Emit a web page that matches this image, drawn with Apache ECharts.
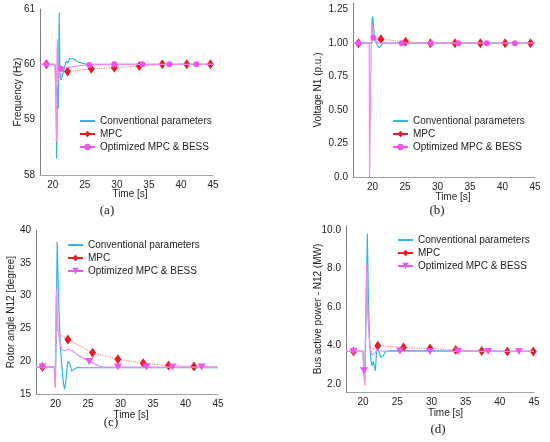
<!DOCTYPE html>
<html>
<head>
<meta charset="utf-8">
<script src="https://cdn.jsdelivr.net/npm/echarts@6/dist/echarts.min.js"></script>
<style>
  html, body { margin: 0; padding: 0; background: #fff; }
  #chart { width: 550px; height: 442px; }
</style>
</head>
<body>
<div id="chart"></div>
<script>
// series names
const NAME_CONV = 'Conventional parameters';
const NAME_MPC = 'MPC';
const NAME_OPT = 'Optimized MPC & BESS';
const NAME_OPT_TRI = 'Optimized MPC & BESS '; // panels (c),(d) use a triangle marker

const xTicks = [20, 25, 30, 35, 40, 45];

// (a) frequency [Hz]
const aConv = [[18, 60], [20.3, 60], [20.45, 59.9], [20.6, 58.3], [20.72, 59.6], [20.85, 59.2], [21.0, 60.93], [21.12, 59.8], [21.3, 59.72], [21.6, 59.75], [21.85, 59.95], [22.1, 60.06], [22.3, 60.02], [22.6, 60.1], [23.0, 60.11], [23.5, 60.08], [24.0, 60.04], [25.0, 60.01], [26, 60], [45, 60]];
const aMpcLine = [[18, 60], [20.3, 60], [20.5, 59.5], [20.7, 60.3], [20.9, 59.7], [21.3, 59.82], [21.8, 59.86], [45, 60]];
const aMpcMarks = [[19.0, 60], [22.3, 59.87], [26.0, 59.92], [29.6, 59.94], [33.5, 59.97], [37.1, 60], [40.9, 60], [44.6, 60]];
const aOptLine = [[18, 60], [20.35, 60], [20.5, 59.2], [20.6, 58.6], [20.7, 60.45], [20.85, 59.75], [21.0, 59.9], [21.6, 59.93], [22.5, 59.95], [24, 59.97], [26, 60], [45, 60]];
const aOptMarks = [[19.0, 60], [21.3, 59.92], [25.7, 59.99], [29.6, 60], [34.0, 60], [38.2, 60], [42.4, 60]];
const aYTicks = [58, 59, 60, 61];

// (b) voltage N1 [p.u.]
const bConv = [[17, 1], [19.9, 1], [19.95, 1.18], [20.05, 1.2], [20.3, 1.03], [20.6, 1.0], [21.0, 0.965], [21.3, 0.98], [21.6, 1.0], [22.3, 1.0], [45, 1]];
const bMpcLine = [[17, 1], [19.9, 1], [19.95, 1.12], [20.3, 1.05], [20.8, 1.02], [45, 1]];
const bMpcMarks = [[17.85, 1], [21.3, 1.03], [25.1, 1.01], [28.9, 1.0], [32.7, 1.0], [36.6, 1.0], [40.4, 1.0], [44.3, 1.0]];
const bOptLine = [[17, 1], [19.5, 1], [19.55, 0.0], [19.75, 0.0], [19.85, 1.15], [20.1, 1.1], [20.4, 1.02], [21, 1.0], [45, 1]];
const bOptMarks = [[17.85, 1], [20.15, 1.04], [24.5, 1.0], [29.0, 1.0], [33.2, 1.0], [37.6, 1.0], [41.9, 1.0]];
const bYTicks = [0, 0.25, 0.5, 0.75, 1.0, 1.25];

// (c) rotor angle N12 [degree]
const cConv = [[17, 19.1], [19.85, 19.1], [20.0, 17], [20.26, 38.2], [20.5, 29], [20.75, 22], [21.0, 19], [21.2, 16.8], [21.4, 15.7], [21.6, 17], [21.8, 19.3], [21.95, 20.0], [22.2, 19.6], [22.5, 18.5], [22.9, 18.8], [23.4, 19.05], [24, 19.0], [45, 19.0]];
const cMpcLine = [[17, 19.1], [19.8, 19.1], [19.95, 16], [20.15, 31], [20.36, 24.8], [20.8, 24.0], [45, 19.1]];
const cMpcMarks = [[18.0, 19.1], [21.9, 23.3], [25.7, 21.3], [29.6, 20.3], [33.5, 19.7], [37.4, 19.35], [41.3, 19.2]];
const cOptLine = [[17, 19.1], [19.8, 19.1], [19.95, 16], [20.15, 31], [20.36, 24.8], [20.6, 23.2], [21.0, 21.7], [21.5, 21.6], [22.0, 21.85], [22.6, 21.6], [23.3, 21.0], [24.2, 20.5], [25.0, 20.1], [25.8, 19.7], [26.7, 19.25], [27.5, 19.1], [45, 19.1]];
const cOptMarks = [[18.0, 19.1], [25.2, 19.95], [29.6, 19.1], [34.0, 19.1], [38.0, 19.1], [42.5, 19.1]];
const cYTicks = [15, 20, 25, 30, 35, 40];

// (d) bus active power N12 [MW]
const dConv = [[17.5, 3.7], [20.0, 3.7], [20.1, 2.8], [20.25, 2.3], [20.45, 6], [20.62, 9.8], [20.78, 6.5], [20.95, 4.2], [21.15, 3.2], [21.3, 2.95], [21.5, 3.2], [21.65, 2.9], [21.8, 2.7], [22.0, 3.85], [22.3, 3.7], [22.6, 3.4], [22.9, 3.45], [23.3, 3.7], [24, 3.75], [45, 3.7]];
const dMpcLine = [[17.5, 3.7], [20.0, 3.7], [20.1, 2.7], [20.25, 1.95], [20.52, 8.2], [20.7, 5.6], [21.0, 4.0], [21.5, 3.8], [45, 3.7]];
const dMpcMarks = [[18.6, 3.7], [22.15, 4.0], [25.9, 3.9], [29.8, 3.85], [33.55, 3.78], [37.35, 3.72], [41.1, 3.7], [44.9, 3.7]];
const dOptLine = [[17.5, 3.7], [20.0, 3.7], [20.1, 2.7], [20.25, 1.95], [20.52, 8.2], [20.7, 5.6], [20.9, 4.4], [21.1, 3.8], [21.35, 3.5], [21.7, 3.6], [22.0, 3.8], [22.5, 3.75], [23, 3.7], [45, 3.7]];
const dOptMarks = [[18.6, 3.7], [20.12, 2.7], [25.4, 3.72], [29.8, 3.7], [33.9, 3.7], [38.3, 3.7], [42.8, 3.7]];
const dYTicks = [2, 4, 6, 8, 10];

const CYAN = '#33b4e6';
const RED = '#e41e26';
const RED_LINE = '#f08a8a';
const MAG = '#ee55ee';
const MAG_LINE = '#f28af2';
const FONT = 'Liberation Sans';
const TRI_DOWN = 'path://M0,0 L10,0 L5,9 Z';

// line points without symbol, marker points with symbol
function withMarks(line, marks) {
  const pts = line.map(p => ({ value: p, symbol: 'none' }))
    .concat(marks.map(p => ({ value: p })));
  pts.sort((a, b) => a.value[0] - b.value[0]);
  return pts;
}

const panels = [
  { grid: { left: 40, top: 9, width: 173, height: 166 }, xMin: 18, yMin: 58, yMax: 61, yTicks: aYTicks,
    yName: 'Frequency (Hz)', yGap: 17, xPad: 7, xGap: 14, fmt: v => String(v),
    conv: aConv, mpc: [aMpcLine, aMpcMarks], opt: [aOptLine, aOptMarks], optName: NAME_OPT,
    legend: { left: 79, top: 116 } },
  { grid: { left: 353, top: 3, width: 182, height: 174 }, xMin: 17, yMin: 0, yMax: 1.3, yTicks: bYTicks,
    yName: 'Voltage N1 (p.u.)', yGap: 30, xPad: 18, xGap: 15, fmt: v => v === 0 ? '0.0' : v.toFixed(2),
    conv: bConv, mpc: [bMpcLine, bMpcMarks], opt: [bOptLine, bOptMarks], optName: NAME_OPT,
    legend: { left: 392, top: 116 } },
  { grid: { left: 36, top: 230, width: 182, height: 164 }, xMin: 17, yMin: 15, yMax: 40, yTicks: cYTicks,
    yName: 'Rotor angle N12 [degree]', yGap: 20, xPad: 8, xGap: 16, fmt: v => String(v),
    conv: cConv, mpc: [cMpcLine, cMpcMarks], opt: [cOptLine, cOptMarks], optName: NAME_OPT_TRI,
    legend: { left: 67, top: 240 } },
  { grid: { left: 346, top: 226, width: 188, height: 166 }, xMin: 17.5, yMin: 1.6, yMax: 10.2, yTicks: dYTicks,
    yName: 'Bus active power - N12 (MW)', yGap: 23, xPad: 11, xGap: 16, fmt: v => v.toFixed(1),
    conv: dConv, mpc: [dMpcLine, dMpcMarks], opt: [dOptLine, dOptMarks], optName: NAME_OPT_TRI,
    legend: { left: 397, top: 235 } }
];

const grids = [], xAxes = [], yAxes = [], legends = [], series = [];

panels.forEach((p, i) => {
  grids.push(p.grid);
  xAxes.push({
    type: 'value', gridIndex: i, min: p.xMin, max: 45,
    name: 'Time [s]', nameLocation: 'middle', nameGap: p.xGap, nameMoveOverlap: false,
    nameTextStyle: { fontFamily: FONT, fontSize: 10, color: '#222', padding: [0, 0, 0, p.xPad] },
    axisLine: { lineStyle: { color: '#a0a0a0', width: 1 } },
    axisTick: { show: false },
    splitLine: { show: false },
    axisLabel: { customValues: xTicks, fontFamily: FONT, fontSize: 10, color: '#222', margin: 5 }
  });
  yAxes.push({
    type: 'value', gridIndex: i, min: p.yMin, max: p.yMax,
    name: p.yName, nameLocation: 'middle', nameGap: p.yGap, nameMoveOverlap: false,
    nameTextStyle: { fontFamily: FONT, fontSize: 10, color: '#222' },
    axisLine: { show: true, lineStyle: { color: '#808080', width: 1 } },
    axisTick: { show: false },
    splitLine: { show: false },
    axisLabel: { customValues: p.yTicks, formatter: p.fmt, fontFamily: FONT, fontSize: 10, color: '#222', margin: 5 }
  });
  legends.push({
    orient: 'vertical', left: p.legend.left, top: p.legend.top,
    itemWidth: 15, itemHeight: 8, itemGap: 3, padding: 0,
    textStyle: { fontFamily: FONT, fontSize: 10, color: '#222' },
    data: [
      { name: NAME_CONV, lineStyle: { color: CYAN, width: 2, type: 'solid' }, itemStyle: { opacity: 0 } },
      { name: NAME_MPC, lineStyle: { color: RED, width: 2, type: 'solid' } },
      { name: p.optName, lineStyle: { color: MAG, width: 2, type: 'solid' } }
    ]
  });
  series.push({
    name: NAME_CONV, type: 'line', xAxisIndex: i, yAxisIndex: i,
    data: p.conv, symbol: 'none', animation: false, z: 2,
    lineStyle: { color: CYAN, width: 1.2 }, itemStyle: { color: CYAN }
  });
  series.push({
    name: NAME_MPC, type: 'line', xAxisIndex: i, yAxisIndex: i,
    data: withMarks(p.mpc[0], p.mpc[1]), symbol: 'diamond', symbolSize: [7, 10],
    showAllSymbol: true, animation: false, z: 3,
    lineStyle: { color: RED_LINE, width: 1.2, type: 'dotted' }, itemStyle: { color: RED }
  });
  const tri = p.optName === NAME_OPT_TRI;
  series.push({
    name: p.optName, type: 'line', xAxisIndex: i, yAxisIndex: i,
    data: withMarks(p.opt[0], p.opt[1]), symbol: tri ? TRI_DOWN : 'circle', symbolSize: tri ? [8, 7] : 6,
    showAllSymbol: true, animation: false, z: 4,
    lineStyle: { color: MAG_LINE, width: 1.2 }, itemStyle: { color: MAG }
  });
});

const captions = [['(a)', 107, 211], ['(b)', 437, 211], ['(c)', 111, 423], ['(d)', 438, 430]];

const chart = echarts.init(document.getElementById('chart'));
chart.setOption({
  backgroundColor: '#fff',
  animation: false,
  grid: grids,
  xAxis: xAxes,
  yAxis: yAxes,
  legend: legends,
  series: series,
  graphic: captions.map(c => ({
    type: 'text', x: c[1], y: c[2],
    style: { text: c[0], fill: '#222', font: '13px "Liberation Serif"', align: 'center', verticalAlign: 'middle' }
  }))
});
</script>
</body>
</html>
